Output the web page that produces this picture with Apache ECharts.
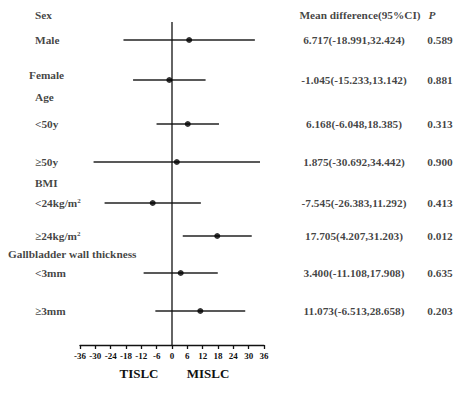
<!DOCTYPE html>
<html><head><meta charset="utf-8">
<script src="https://cdn.jsdelivr.net/npm/echarts@6/dist/echarts.min.js"></script>
<style>html,body{margin:0;padding:0;background:#fff}#c{width:474px;height:393px}</style>
</head><body><div id="c"></div>
<script>
// ---- data ----
const subgroups = ['Male', 'Female', '<50y', '≥50y', '<24kg/m2', '≥24kg/m2', '<3mm', '≥3mm'];
const meanDiff = [6.717, -1.045, 6.168, 1.875, -7.545, 17.705, 3.400, 11.073];
const ciLow = [-18.991, -15.233, -6.048, -30.692, -26.383, 4.207, -11.108, -6.513];
const ciHigh = [32.424, 13.142, 18.385, 34.442, 11.292, 31.203, 17.908, 28.658];
const pValues = ['0.589', '0.881', '0.313', '0.900', '0.413', '0.012', '0.635', '0.203'];
const headers = ['Sex', 'Age', 'BMI', 'Gallbladder wall thickness'];
const xTickMin = -36, xTickMax = 36, xTickStep = 6;
const sideLabels = ['TISLC', 'MISLC'];
const colTitles = ['Mean difference(95%CI)', 'P'];

// ---- layout (row positions in table rows, not data) ----
const dataRows = [1.25, 3.25, 5.45, 7.35, 9.4, 11.05, 12.9, 14.8];
const labelRows = [1.25, 3.0, 5.45, 7.35, 9.4, 11.05, 12.9, 14.8];
const headerRows = [0, 4.1, 8.4, 11.95];
const FONT = '"Liberation Serif", "Times New Roman", serif';
const INK = '#111';
const FS = 11.3;

function fmtLabel(s) { return s.replace('m2', 'm{sup|2}'); }
const rich = { sup: { fontSize: 7, fontWeight: 'bold', fontFamily: FONT, color: INK, verticalAlign: 'top', lineHeight: 8 } };

const leftItems = [];
subgroups.forEach((s, i) => leftItems.push({ value: [s === 'Female' ? 29 : 35, labelRows[i]], name: s }));
headers.forEach((h, i) => leftItems.push({ value: [h.startsWith('Gall') ? 8 : 35, headerRows[i]], name: h }));

const tableItems = [];
subgroups.forEach((s, i) => {
  tableItems.push({ value: [354, dataRows[i]], name: meanDiff[i].toFixed(3) + '(' + ciLow[i].toFixed(3) + ',' + ciHigh[i].toFixed(3) + ')' });
  tableItems.push({ value: [440, dataRows[i]], name: pValues[i] });
});
tableItems.push({ value: [360, 0], name: colTitles[0] });
tableItems.push({ value: [432, 0], name: colTitles[1], label: { fontStyle: 'italic' } });

const chart = echarts.init(document.getElementById('c'), null, { renderer: 'svg' });
chart.setOption({
  animation: false,
  backgroundColor: '#fff',
  grid: [
    { left: 80, width: 184, top: 15, height: 330 },
    { left: 0, width: 474, top: 15, height: 330 }
  ],
  xAxis: [
    { gridIndex: 0, type: 'value', min: xTickMin, max: xTickMax, interval: xTickStep,
      axisLine: { show: true, onZero: false, lineStyle: { color: INK, width: 1.3 } },
      axisTick: { show: true, length: 4, lineStyle: { color: INK, width: 1.3 } },
      axisLabel: { fontSize: 9, fontWeight: 'bold', fontFamily: FONT, color: INK, margin: 6 },
      splitLine: { show: false } },
    { gridIndex: 1, type: 'value', min: 0, max: 474, show: false }
  ],
  yAxis: [
    { gridIndex: 0, type: 'value', min: 0, max: 16.5, inverse: true, show: false },
    { gridIndex: 1, type: 'value', min: 0, max: 16.5, inverse: true, show: false }
  ],
  series: [
    { type: 'line', xAxisIndex: 0, yAxisIndex: 0, data: [[0, 0.35], [0, 16.5]], symbol: 'none',
      lineStyle: { color: INK, width: 1.3 }, silent: true },
    { type: 'custom', xAxisIndex: 0, yAxisIndex: 0,
      data: subgroups.map((s, i) => [ciLow[i], ciHigh[i], dataRows[i]]),
      encode: { x: [0, 1], y: 2 },
      renderItem: function (params, api) {
        const a = api.coord([api.value(0), api.value(2)]);
        const b = api.coord([api.value(1), api.value(2)]);
        return { type: 'line', shape: { x1: a[0], y1: a[1], x2: b[0], y2: b[1] }, style: { stroke: '#222', lineWidth: 1.3 } };
      } },
    { type: 'scatter', xAxisIndex: 0, yAxisIndex: 0, symbol: 'circle', symbolSize: 6,
      itemStyle: { color: '#000' }, data: subgroups.map((s, i) => [meanDiff[i], dataRows[i]]), z: 5 },
    { type: 'scatter', xAxisIndex: 1, yAxisIndex: 1, symbolSize: 0, data: leftItems,
      label: { show: true, position: 'right', distance: 0, formatter: p => fmtLabel(p.name), rich: rich,
        fontSize: FS, fontWeight: 'bold', fontFamily: FONT, color: INK } },
    { type: 'scatter', xAxisIndex: 1, yAxisIndex: 1, symbolSize: 0, data: tableItems,
      label: { show: true, position: 'inside', formatter: p => p.name,
        fontSize: FS, fontWeight: 'bold', fontFamily: FONT, color: INK } }
  ],
  graphic: [
    { type: 'text', x: 139, y: 373, style: { text: sideLabels[0], font: 'bold 13px ' + FONT, fill: INK, align: 'center', verticalAlign: 'middle' } },
    { type: 'text', x: 208, y: 373, style: { text: sideLabels[1], font: 'bold 13px ' + FONT, fill: INK, align: 'center', verticalAlign: 'middle' } }
  ]
});
</script></body></html>
